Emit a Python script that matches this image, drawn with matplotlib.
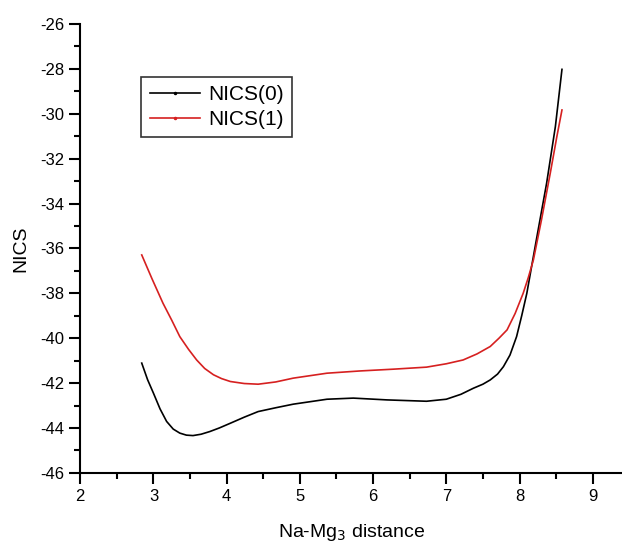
import numpy as np
import matplotlib
matplotlib.use('Agg')
import matplotlib.pyplot as plt
from matplotlib.ticker import MultipleLocator

plt.rcParams['font.family'] = ['Liberation Sans', 'DejaVu Sans']
plt.rcParams['axes.unicode_minus'] = False

# NICS(0) - black curve
x0 = [2.84, 2.92, 3.0, 3.09, 3.18, 3.27, 3.36, 3.45, 3.54, 3.65, 3.77, 3.9,
      4.05, 4.24, 4.43, 4.67, 4.91, 5.37, 5.73, 6.19, 6.73, 7.0, 7.2, 7.37,
      7.5, 7.6, 7.7, 7.78, 7.87, 7.96, 8.03, 8.1, 8.23, 8.37, 8.49, 8.58]
nics0 = [-41.11, -41.85, -42.45, -43.15, -43.71, -44.05, -44.23, -44.32,
         -44.34, -44.28, -44.16, -44.0, -43.79, -43.52, -43.27, -43.1, -42.94,
         -42.72, -42.67, -42.75, -42.81, -42.72, -42.5, -42.23, -42.05, -41.86,
         -41.6, -41.27, -40.75, -39.93, -39.0, -38.0, -35.62, -33.1, -30.57,
         -28.02]

# NICS(1) - red curve
x1 = [2.84, 2.98, 3.13, 3.25, 3.36, 3.48, 3.59, 3.7, 3.82, 3.93, 4.05, 4.24,
      4.43, 4.67, 4.91, 5.37, 5.82, 6.28, 6.73, 7.0, 7.23, 7.42, 7.6, 7.72,
      7.83, 7.94, 8.05, 8.12, 8.19, 8.3, 8.42, 8.51, 8.58]
nics1 = [-36.29, -37.35, -38.44, -39.2, -39.93, -40.5, -40.97, -41.35, -41.63,
         -41.8, -41.93, -42.02, -42.05, -41.95, -41.78, -41.56, -41.46, -41.38,
         -41.29, -41.14, -40.97, -40.7, -40.37, -40.0, -39.63, -38.9, -38.0,
         -37.3, -36.51, -34.73, -32.65, -31.02, -29.83]

fig = plt.figure(figsize=(6.22, 5.46), dpi=100)
ax = fig.add_axes([0.129, 0.134, 0.871, 0.822])

ax.plot(x0, nics0, color='black', lw=1.2)
ax.plot(x1, nics1, color='#d62020', lw=1.2)

ax.set_xlim(2, 9.4)
ax.set_ylim(-46, -26)
ax.xaxis.set_major_locator(MultipleLocator(1))
ax.xaxis.set_minor_locator(MultipleLocator(0.5))
ax.yaxis.set_major_locator(MultipleLocator(2))
ax.yaxis.set_minor_locator(MultipleLocator(1))

for s in ['top', 'right']:
    ax.spines[s].set_visible(False)
for s in ['left', 'bottom']:
    ax.spines[s].set_linewidth(1.5)

ax.tick_params(which='major', direction='out', length=8, width=1.5, labelsize=12)
ax.tick_params(which='minor', direction='out', length=4, width=1.5)

ax.set_xlabel('Na-Mg$_3$ distance', fontsize=14, labelpad=13)
ax.set_ylabel('NICS', fontsize=14, labelpad=8)

# legend lines with a small dot in the middle like the original
h0, = ax.plot([], [], color='black', lw=1.2, marker='.', markersize=3)
h1, = ax.plot([], [], color='#d62020', lw=1.2, marker='.', markersize=3)
leg = ax.legend([h0, h1], ['NICS(0)', 'NICS(1)'], loc='upper left',
                bbox_to_anchor=(0.113, 0.883), borderaxespad=0, fontsize=15,
                frameon=True, fancybox=False, edgecolor='black',
                handlelength=2.4, borderpad=0.4, labelspacing=0.3,
                handletextpad=0.4)
leg.get_frame().set_linewidth(1.2)

plt.savefig('out.png', dpi=100)
